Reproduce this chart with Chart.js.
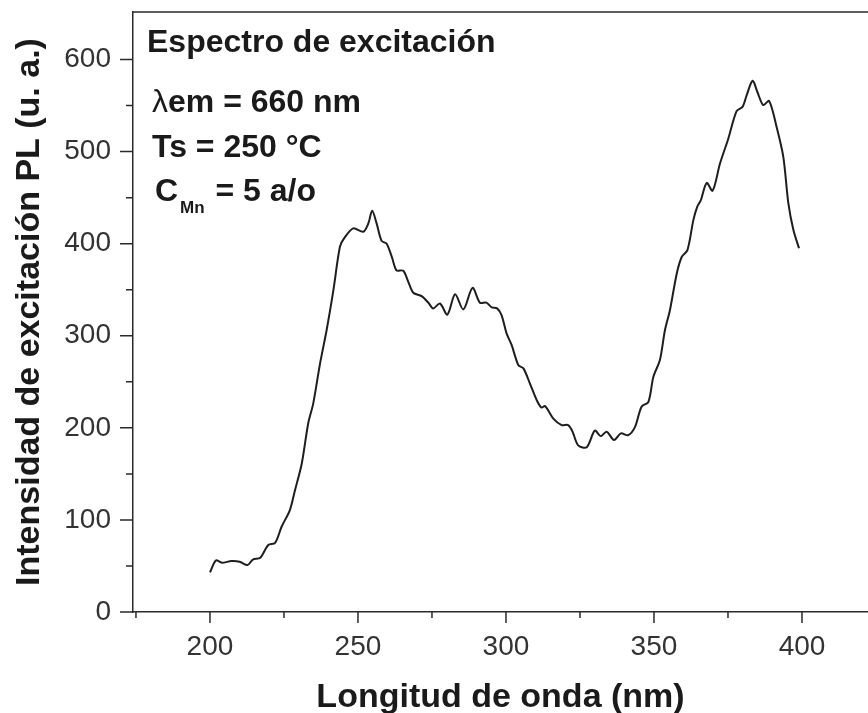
<!DOCTYPE html>
<html>
<head>
<meta charset="utf-8">
<script src="https://cdn.jsdelivr.net/npm/chart.js@4/dist/chart.umd.min.js"></script>
<style>
  html, body { margin: 0; padding: 0; background: #fff; }
  #wrap { width: 868px; height: 713px; }
</style>
</head>
<body>
<div id="wrap"><canvas id="c" width="868" height="713"></canvas></div>
<script>
// Excitation spectrum (emission monitored at 660 nm)
const wavelength = [
  200, 202, 204, 207.3, 210, 212.7, 214.5, 217, 219.7, 222, 224.2, 227, 228.7, 231, 233.2,
  234.9, 237.2, 239.4, 241.7, 243.9, 245.3, 248.4, 251.8, 253.5, 254.8, 256.3, 258, 259.7,
  261.5, 263, 265.3, 267, 268.7, 271.5, 273.8, 275.4, 277.7, 280.2, 282.8, 285.6, 288.7,
  291.2, 293.4, 295.2, 297, 298.5, 300.2, 301.9, 304.2, 305.9, 308.1, 310.4, 312, 313.2,
  316, 318.8, 321, 322.5, 324.4, 327.3, 330, 332, 334, 336.5, 338.8, 341.3, 343.6, 345.8,
  348.1, 349.8, 352, 353.7, 355.4, 357.7, 359.4, 361.3, 363.3, 364.6, 365.8, 367.8, 369.8,
  372.3, 375.1, 377.9, 379.9, 381.3, 383.3, 384.9, 386.9, 388.9, 391.4, 393.7, 395.4,
  397.1, 399
];
const intensity = [
  43, 56, 53.5, 55.4, 54.6, 51, 57, 59, 72.7, 75, 92.6, 110.7, 132, 161, 205,
  226.6, 270, 306, 349.6, 396.6, 405.7, 416.6, 413, 422, 435.7, 422, 403, 400,
  385, 371, 370.6, 358.6, 346.7, 343, 335.8, 329.7, 335, 323, 345, 328.6, 352,
  335.8, 336, 330.8, 329.7, 322.5, 302.6, 290, 268, 264.6, 248, 230, 222, 223.7,
  210, 203, 203, 195.8, 181, 179, 197, 191, 195.8, 186.8, 194, 192, 201, 223,
  228, 255.5, 273.6, 306, 328, 367.7, 385.8, 393, 425.6, 440, 447, 466, 457.5,
  487, 514, 544, 548.6, 561, 577, 565, 550.5, 555, 527, 494, 443.7,
  414.8, 395
];

// Axis ticks
const xMajorTicks = [200, 250, 300, 350, 400];
const xMinorTicks = [175, 225, 275, 325, 375];
const yMajorTicks = [0, 100, 200, 300, 400, 500, 600];
const yMinorTicks = [50, 150, 250, 350, 450, 550];

// Text
const xTitle = 'Longitud de onda (nm)';
const yTitle = 'Intensidad de excitación PL (u. a.)';
const panelTitle = 'Espectro de excitación';

const FONT = '"Liberation Sans", Arial, Helvetica, sans-serif';
const AXIS_COLOR = '#2a2a2a';

// Tick marks (major + minor, pointing outward) and the top frame line
const frameTicks = {
  id: 'frameTicks',
  afterDraw(chart) {
    const { ctx, chartArea: { left, right, top, bottom }, scales: { x, y } } = chart;
    ctx.save();
    ctx.strokeStyle = AXIS_COLOR;
    ctx.lineWidth = 1.5;
    ctx.beginPath();
    ctx.moveTo(left, top);
    ctx.lineTo(right, top);
    xMajorTicks.forEach(v => { const p = x.getPixelForValue(v); ctx.moveTo(p, bottom); ctx.lineTo(p, bottom + 11); });
    xMinorTicks.forEach(v => { const p = x.getPixelForValue(v); ctx.moveTo(p, bottom); ctx.lineTo(p, bottom + 6); });
    yMajorTicks.forEach(v => { const p = y.getPixelForValue(v); ctx.moveTo(left, p); ctx.lineTo(left - 13, p); });
    yMinorTicks.forEach(v => { const p = y.getPixelForValue(v); ctx.moveTo(left, p); ctx.lineTo(left - 7, p); });
    ctx.stroke();
    ctx.restore();
  }
};

// Sample description in the upper-left corner
const infoBox = {
  id: 'infoBox',
  afterDraw(chart) {
    const ctx = chart.ctx;
    ctx.save();
    ctx.fillStyle = '#1a1a1a';
    ctx.textBaseline = 'alphabetic';
    ctx.textAlign = 'left';

    ctx.font = 'bold 32px ' + FONT;
    ctx.fillText(panelTitle, 147, 52);

    ctx.font = '32px ' + FONT;
    ctx.fillText('λ', 152, 112);
    let w = ctx.measureText('λ').width;
    ctx.font = 'bold 32px ' + FONT;
    ctx.fillText('em = 660 nm', 152 + w, 112);

    ctx.fillText('Ts = 250 °C', 152, 157);

    ctx.fillText('C', 155, 201);
    w = ctx.measureText('C').width;
    ctx.font = 'bold 17px ' + FONT;
    ctx.fillText('Mn', 155 + w + 2, 213);
    const w2 = ctx.measureText('Mn').width;
    ctx.font = 'bold 32px ' + FONT;
    ctx.fillText(' = 5 a/o', 155 + w + 2 + w2 + 2, 201);
    ctx.restore();
  }
};

const points = wavelength.map((wl, i) => ({ x: wl, y: intensity[i] }));

new Chart(document.getElementById('c'), {
  type: 'line',
  data: {
    datasets: [{
      data: points,
      borderColor: '#1e1e1e',
      borderWidth: 2,
      pointRadius: 0,
      tension: 0.3,
      fill: false
    }]
  },
  options: {
    responsive: false,
    animation: false,
    devicePixelRatio: 1,
    layout: { padding: { top: 12, right: 0, bottom: 0, left: 0 } },
    plugins: { legend: { display: false }, tooltip: { enabled: false } },
    scales: {
      x: {
        type: 'linear',
        min: 174,
        max: 422.3,
        afterBuildTicks: s => { s.ticks = xMajorTicks.map(v => ({ value: v })); },
        afterFit: s => { s.height = 101; s.paddingLeft = 0; s.paddingRight = 0; },
        grid: { display: false, drawTicks: false },
        border: { display: true, color: AXIS_COLOR, width: 1.5 },
        ticks: {
          autoSkip: false, maxRotation: 0, padding: 18,
          color: '#333', font: { family: FONT, size: 28 }
        },
        title: {
          display: true, text: xTitle, color: '#1a1a1a',
          font: { family: FONT, size: 34, weight: 'bold', lineHeight: 1 },
          padding: { top: 0, bottom: -2 }
        }
      },
      y: {
        type: 'linear',
        min: 0,
        max: 651.6,
        afterBuildTicks: s => { s.ticks = yMajorTicks.map(v => ({ value: v })); },
        afterFit: s => { s.width = 133; s.paddingTop = 0; s.paddingBottom = 0; },
        grid: { display: false, drawTicks: false },
        border: { display: true, color: AXIS_COLOR, width: 1.5 },
        ticks: {
          autoSkip: false, padding: 22,
          color: '#333', font: { family: FONT, size: 28 }
        },
        title: {
          display: true, text: yTitle, color: '#1a1a1a',
          font: { family: FONT, size: 34, weight: 'bold', lineHeight: 1 },
          padding: { top: 13, bottom: 0 }
        }
      }
    }
  },
  plugins: [frameTicks, infoBox]
});
</script>
</body>
</html>
